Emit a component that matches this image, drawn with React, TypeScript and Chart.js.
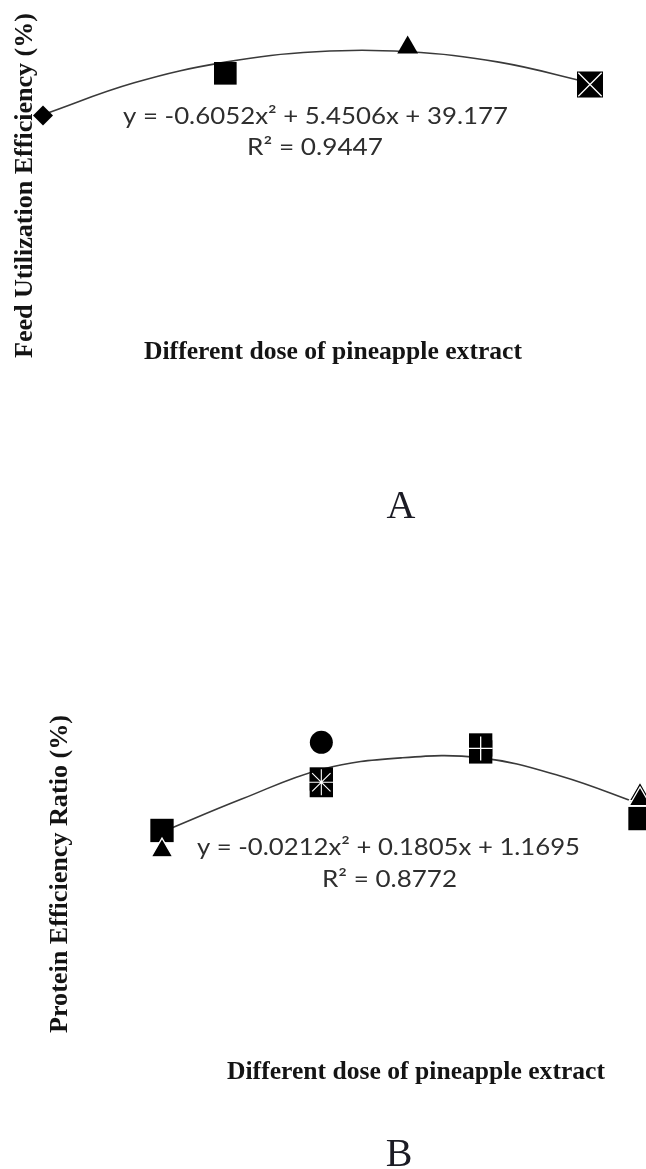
import React, { useEffect, useRef } from 'react';
import { Chart, registerables } from 'chart.js';

Chart.register(...registerables);

// ---------- Chart A : Feed Utilization Efficiency ----------
const DOSE_A = [1, 3, 5, 7];
const FUE_A = [43.9, 48.8, 51.8, 47.5];
const TREND_X = [1, 2, 3, 4, 5, 6, 7];
const TREND_A = [44.0, 47.7, 50.1, 51.3, 51.3, 50.1, 47.7];
const Y_TITLE_A = 'Feed Utilization Efficiency (%)';
const EQ_A = 'y = -0.6052x² + 5.4506x + 39.177';
const R2_A = 'R² = 0.9447';

// ---------- Chart B : Protein Efficiency Ratio ----------
const SQ_DOSE_B = [1, 3, 3, 5, 5, 7];
const SQ_B = [1.335, 1.491, 1.471, 1.594, 1.573, 1.371];
const TRI_DOSE_B = [1, 7, 7];
const TRI_B = [1.274, 1.444, 1.429];
const CIRC_DOSE_B = [3];
const CIRC_B = [1.602];
const TREND_B = [1.33, 1.43, 1.52, 1.555, 1.555, 1.5, 1.415];
const Y_TITLE_B = 'Protein Efficiency Ratio (%)';
const EQ_B = 'y = -0.0212x² + 0.1805x + 1.1695';
const R2_B = 'R² = 0.8772';

const X_TITLE = 'Different dose of pineapple extract';

const pts = (xs: number[], ys: number[]) => xs.map((x, i) => ({ x, y: ys[i] }));
const mean = (a: number[]) => a.reduce((s, v) => s + v, 0) / a.length;

type Label = { text: string; x: number; y: number; font: string; width?: number; rotate?: boolean; color: string };

function textLayer(id: string, labels: Label[]) {
  return {
    id,
    afterDatasetsDraw(chart: any) {
      const ctx: CanvasRenderingContext2D = chart.ctx;
      labels.forEach((l) => {
        ctx.save();
        ctx.font = l.font;
        ctx.fillStyle = l.color;
        ctx.textAlign = 'center';
        ctx.textBaseline = 'middle';
        const natural = ctx.measureText(l.text).width;
        ctx.translate(l.x, l.y);
        if (l.rotate) ctx.rotate(-Math.PI / 2);
        if (l.width) ctx.scale(l.width / natural, 1);
        ctx.fillText(l.text, 0, 0);
        ctx.restore();
      });
    },
  };
}

const SERIF_B = 'bold 25px "Liberation Serif", "Times New Roman", serif';
const EQ_FONT = '24px Lato, "Open Sans", sans-serif';
const LETTER_FONT = '40px "Liberation Serif", "Times New Roman", serif';
const INK = '#141414';
const EQ_INK = '#2e2e2e';
const LETTER_INK = '#1b1b24';
const LINE = '#3a3a3a';

const marker = (data: any[], style: string, r: number, extra: any = {}) => ({
  data,
  showLine: false,
  pointStyle: style,
  pointRadius: r,
  pointHoverRadius: r,
  pointBackgroundColor: '#000',
  pointBorderColor: '#000',
  pointBorderWidth: 0,
  clip: false,
  order: 5,
  ...extra,
});

const trend = (xs: number[], ys: number[]) => ({
  data: pts(xs, ys),
  showLine: true,
  borderColor: LINE,
  borderWidth: 1.6,
  tension: 0.4,
  pointRadius: 0,
  clip: false,
  order: 10,
});

const baseOptions = (pad: any, ymin: number, ymax: number) => ({
  responsive: false,
  maintainAspectRatio: false,
  animation: false as const,
  events: [],
  layout: { padding: pad, autoPadding: false },
  plugins: { legend: { display: false }, tooltip: { enabled: false } },
  scales: {
    x: { type: 'linear' as const, display: false, min: 1, max: 7 },
    y: { type: 'linear' as const, display: false, min: ymin, max: ymax },
  },
});

function configA(): any {
  return {
    type: 'scatter',
    data: {
      datasets: [
        trend(TREND_X, TREND_A),
        marker([{ x: DOSE_A[0], y: FUE_A[0] }], 'rectRot', 10),
        marker([{ x: DOSE_A[1], y: FUE_A[1] }], 'rect', 16),
        marker([{ x: DOSE_A[2], y: FUE_A[2] }], 'triangle', 12),
        marker([{ x: DOSE_A[3], y: FUE_A[3] }], 'rect', 18.4),
        marker([{ x: DOSE_A[3], y: FUE_A[3] }], 'crossRot', 16.5, {
          pointBorderColor: '#fff',
          pointBorderWidth: 1.3,
          order: 0,
        }),
      ],
    },
    options: baseOptions({ left: 43, right: 56, top: 20, bottom: 307 }, 25, 55),
    plugins: [
      textLayer('textA', [
        { text: Y_TITLE_A, x: 26, y: 185.5, rotate: true, font: SERIF_B, width: 345, color: INK },
        { text: EQ_A, x: 315.5, y: 116, font: EQ_FONT, width: 385, color: EQ_INK },
        { text: R2_A, x: 315, y: 147, font: EQ_FONT, width: 136, color: EQ_INK },
        { text: X_TITLE, x: 333, y: 353, font: SERIF_B, width: 378, color: INK },
        { text: 'A', x: 401, y: 507, font: LETTER_FONT, color: LETTER_INK },
      ]),
    ],
  };
}

function configB(): any {
  const starY = mean([SQ_B[1], SQ_B[2]]);
  const crossY = mean([SQ_B[3], SQ_B[4]]);
  return {
    type: 'scatter',
    data: {
      datasets: [
        trend(TREND_X, TREND_B),
        marker(pts(SQ_DOSE_B, SQ_B), 'rect', 16.5, { order: 6 }),
        marker(pts(TRI_DOSE_B, TRI_B), 'triangle', 12.5, {
          pointBorderColor: '#fff',
          pointBorderWidth: 1.3,
          order: 4,
        }),
        marker(pts(CIRC_DOSE_B, CIRC_B), 'circle', 11.5, { order: 3 }),
        marker([{ x: SQ_DOSE_B[1], y: starY }], 'star', 13, {
          pointBorderColor: '#fff',
          pointBorderWidth: 1.1,
          order: 0,
        }),
        marker([{ x: SQ_DOSE_B[3], y: crossY }], 'cross', 12, {
          pointBorderColor: '#fff',
          pointBorderWidth: 1.3,
          order: 0,
        }),
      ],
    },
    options: baseOptions({ left: 162, right: 6, top: 92, bottom: 228 }, 1.0, 1.8),
    plugins: [
      textLayer('textB', [
        { text: Y_TITLE_B, x: 61, y: 289, rotate: true, font: SERIF_B, width: 318, color: INK },
        { text: EQ_B, x: 388.5, y: 262.5, font: EQ_FONT, width: 383, color: EQ_INK },
        { text: R2_B, x: 389.5, y: 294, font: EQ_FONT, width: 135, color: EQ_INK },
        { text: X_TITLE, x: 416, y: 488, font: SERIF_B, width: 378, color: INK },
        { text: 'B', x: 399, y: 570, font: LETTER_FONT, color: LETTER_INK },
      ]),
    ],
  };
}

export default function App() {
  const refA = useRef<HTMLCanvasElement>(null);
  const refB = useRef<HTMLCanvasElement>(null);

  useEffect(() => {
    const a = new Chart(refA.current as HTMLCanvasElement, configA());
    const b = new Chart(refB.current as HTMLCanvasElement, configB());
    return () => {
      a.destroy();
      b.destroy();
    };
  }, []);

  return (
    <div
      style={{
        position: 'absolute',
        left: 0,
        top: 0,
        width: 646,
        height: 1169,
        background: '#fff',
        overflow: 'hidden',
      }}
    >
      <canvas
        ref={refA}
        width={646}
        height={585}
        style={{ position: 'absolute', left: 0, top: 0, width: '646px', height: '585px' }}
      />
      <canvas
        ref={refB}
        width={646}
        height={584}
        style={{ position: 'absolute', left: 0, top: 585, width: '646px', height: '584px' }}
      />
    </div>
  );
}
